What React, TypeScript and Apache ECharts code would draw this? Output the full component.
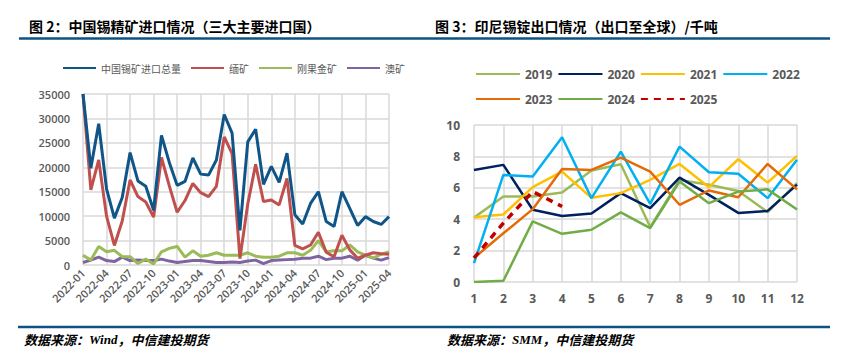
import React, { useEffect, useRef } from "react";
import * as echarts from "echarts";

// ---------- Left chart data (吨) ----------
const months = [
  "2022-01", "2022-02", "2022-03", "2022-04", "2022-05", "2022-06", "2022-07", "2022-08", "2022-09", "2022-10",
  "2022-11", "2022-12", "2023-01", "2023-02", "2023-03", "2023-04", "2023-05", "2023-06", "2023-07", "2023-08",
  "2023-09", "2023-10", "2023-11", "2023-12", "2024-01", "2024-02", "2024-03", "2024-04", "2024-05", "2024-06",
  "2024-07", "2024-08", "2024-09", "2024-10", "2024-11", "2024-12", "2025-01", "2025-02", "2025-03", "2025-04",
];
const totalImport = [
  35000, 19800, 28900, 15600, 9600, 13800, 23000, 17200, 16100, 11200,
  26500, 21000, 16300, 17100, 21900, 18600, 18400, 21500, 30800, 27000,
  7100, 25200, 27800, 16500, 20200, 16900, 22900, 10300, 8400, 12600,
  15000, 8900, 7900, 15000, 11600, 8100, 9900, 8900, 8300, 9900,
];
const myanmar = [
  35000, 15400, 21500, 10000, 4000, 9000, 17400, 14000, 12900, 9800,
  22000, 16200, 10800, 13200, 16700, 14800, 14000, 16100, 26200, 22800,
  1300, 12500, 20600, 13000, 13300, 12300, 17700, 4000, 3300, 4100,
  6700, 2600, 1700, 6100, 3100, 1400, 2000, 2500, 2300, 2200,
];
const congo = [
  2000, 1000, 3800, 2700, 3000, 1700, 1700, 300, 1200, 200,
  2700, 3400, 3800, 1600, 2900, 1800, 2000, 2500, 2000, 2000,
  2000, 2500, 1800, 1600, 1600, 1800, 2500, 2500, 2000, 3000,
  5000, 2700, 2900, 2900, 4100, 2700, 2000, 1400, 2200, 2700,
];
const australia = [
  500, 1000, 1600, 900, 700, 1600, 900, 1000, 900, 900,
  1200, 800, 500, 700, 900, 900, 700, 500, 500, 600,
  500, 800, 1000, 300, 900, 1000, 1100, 1200, 1400, 1400,
  1800, 1100, 1400, 1400, 1800, 1000, 2000, 1400, 1000, 1500,
];
const leftNames = ["中国锡矿进口总量", "缅矿", "刚果金矿", "澳矿"];
const leftTicks = { min: 0, max: 35000, interval: 5000 };

// ---------- Right chart data (千吨) ----------
const monthNums = ["1", "2", "3", "4", "5", "6", "7", "8", "9", "10", "11", "12"];
const y2019 = [4.1, 5.45, 5.45, 5.7, 7.1, 7.5, 3.5, 6.5, 6.2, 5.8, 4.45, 6.3];
const y2020 = [7.14, 7.46, 4.6, 4.2, 4.36, 5.66, 4.7, 6.65, 5.55, 4.4, 4.53, 6.2];
const y2021 = [4.13, 4.3, 6.04, 7.03, 5.36, 5.66, 6.5, 7.52, 6.04, 7.82, 6.33, 8.03];
const y2022 = [1.2, 6.82, 6.72, 9.22, 5.34, 8.3, 4.98, 8.62, 6.99, 6.9, 5.34, 7.78];
const y2023 = [1.53, 3.1, 4.64, 7.2, 7.14, 7.92, 7.03, 4.92, 5.83, 5.4, 7.52, 5.9];
const y2024 = [0.0, 0.08, 3.86, 3.07, 3.33, 4.43, 3.43, 6.4, 5.02, 5.76, 5.9, 4.62];
const y2025 = [1.53, 3.75, 5.76, 4.81];
const yearNames = ["2019", "2020", "2021", "2022", "2023", "2024", "2025"];

const GRAY = "#595959";
const GRID = "#D9D9D9";
const RULE = "#0C5384";
const FONT = "'Open Sans', 'Noto Sans CJK SC', sans-serif";
const CJK = "'Noto Sans CJK SC', 'Noto Sans', sans-serif";

export default function App() {
  const ref = useRef<HTMLDivElement>(null);

  useEffect(() => {
    if (!ref.current) return;
    const chart = echarts.init(ref.current, null, { renderer: "svg" });

    const leftColors = ["#0F5587", "#C0504D", "#9BBB59", "#8064A2"];
    const leftData = [totalImport, myanmar, congo, australia];
    const rightColors = ["#9BBB59", "#002060", "#FFC000", "#00B0F0", "#E36C09", "#70AD47", "#C00000"];
    const rightData = [y2019, y2020, y2021, y2022, y2023, y2024, y2025];

    const leftSeries = leftNames.map((n, i) => ({
      name: n,
      type: "line",
      xAxisIndex: 0,
      yAxisIndex: 0,
      data: leftData[i],
      symbol: "none",
      z: 10 - i,
      lineStyle: { color: leftColors[i], width: 3 },
      itemStyle: { color: leftColors[i] },
    }));

    const rightSeries = yearNames.map((n, i) => ({
      name: n,
      type: "line",
      xAxisIndex: 1,
      yAxisIndex: 1,
      data: rightData[i],
      symbol: "none",
      z: 10 + i,
      lineStyle: {
        color: rightColors[i],
        width: n === "2025" ? 3.5 : 2.5,
        type: n === "2025" ? [7, 6] : "solid",
      },
      itemStyle: { color: rightColors[i] },
    }));

    const sourceText = (x: number, y: number, src: string) => ({
      type: "text",
      left: x,
      top: y,
      style: {
        text: "{a|数据来源：}{b|" + src + "}{a|，中信建投期货}",
        rich: {
          a: { fontFamily: CJK, fontStyle: "italic", fontWeight: "bold", fontSize: 13, fill: "#000" },
          b: { fontFamily: "'Liberation Serif', serif", fontStyle: "italic", fontWeight: "bold", fontSize: 13, fill: "#000" },
        },
      },
    });

    const hideSymbol = { opacity: 0 };

    chart.setOption({
      animation: false,
      textStyle: { fontFamily: FONT },
      legend: [
        {
          data: leftNames,
          left: 57,
          top: 58,
          itemWidth: 33,
          itemHeight: 12,
          itemGap: 9,
          itemStyle: hideSymbol,
          textStyle: { fontSize: 10, color: GRAY, fontFamily: CJK },
        },
        {
          data: ["2019", "2020", "2021", "2022"],
          left: 470,
          top: 63,
          itemWidth: 44,
          itemHeight: 12,
          itemGap: 5,
          itemStyle: hideSymbol,
          textStyle: { fontSize: 12, color: GRAY, fontWeight: "bold", fontFamily: FONT },
        },
        {
          data: ["2023", "2024", "2025"],
          left: 470,
          top: 88,
          itemWidth: 44,
          itemHeight: 12,
          itemGap: 5,
          itemStyle: hideSymbol,
          textStyle: { fontSize: 12, color: GRAY, fontWeight: "bold", fontFamily: FONT },
        },
      ],
      grid: [
        { left: 83, right: 465, top: 94, bottom: 95 },
        { left: 474, right: 57, top: 125, bottom: 78 },
      ],
      xAxis: [
        {
          type: "category",
          gridIndex: 0,
          data: months,
          boundaryGap: false,
          axisLine: { show: false },
          axisTick: { show: false },
          axisLabel: {
            interval: 2,
            rotate: 45,
            color: GRAY,
            fontSize: 11,
            fontWeight: 600,
            margin: 6,
          },
          splitLine: { show: true, interval: 2, lineStyle: { color: GRID, width: 1.5 } },
        },
        {
          type: "category",
          gridIndex: 1,
          data: monthNums,
          boundaryGap: false,
          axisLine: { show: false },
          axisTick: { show: false },
          axisLabel: { color: GRAY, fontSize: 12, fontWeight: "bold", margin: 10 },
          splitLine: { show: true, lineStyle: { color: GRID, width: 1.5 } },
        },
      ],
      yAxis: [
        {
          type: "value",
          gridIndex: 0,
          min: leftTicks.min,
          max: leftTicks.max,
          interval: leftTicks.interval,
          axisLine: { show: false },
          axisTick: { show: false },
          axisLabel: {
            color: GRAY,
            fontSize: 11,
            fontWeight: 600,
            margin: 13,
            formatter: (v: number) => String(v),
          },
          splitLine: { show: true, lineStyle: { color: GRID, width: 1.5 } },
        },
        {
          type: "value",
          gridIndex: 1,
          min: 0,
          max: 10,
          interval: 2,
          axisLine: { show: false },
          axisTick: { show: false },
          axisLabel: { color: GRAY, fontSize: 12, fontWeight: "bold", margin: 14 },
          splitLine: { show: true, lineStyle: { color: GRID, width: 1.5 } },
        },
      ],
      series: [...leftSeries, ...rightSeries],
      graphic: [
        {
          type: "text",
          left: 29,
          top: 19,
          style: {
            text: "图 2：中国锡精矿进口情况（三大主要进口国）",
            fontFamily: CJK,
            fontWeight: "bold",
            fontSize: 14,
            fill: "#000",
          },
        },
        {
          type: "text",
          left: 435,
          top: 19,
          style: {
            text: "图 3：印尼锡锭出口情况（出口至全球）/千吨",
            fontFamily: CJK,
            fontWeight: "bold",
            fontSize: 14,
            fill: "#000",
          },
        },
        { type: "line", shape: { x1: 19, y1: 38.5, x2: 830, y2: 38.5 }, style: { stroke: RULE, lineWidth: 2.5 } },
        { type: "line", shape: { x1: 18, y1: 327, x2: 830, y2: 327 }, style: { stroke: RULE, lineWidth: 2.5 } },
        sourceText(24, 333, "Wind"),
        sourceText(447, 333, "SMM"),
      ],
    });

    return () => chart.dispose();
  }, []);

  return (
    <div
      ref={ref}
      style={{ position: "absolute", left: 0, top: 0, width: 854, height: 360, background: "#fff" }}
    />
  );
}
